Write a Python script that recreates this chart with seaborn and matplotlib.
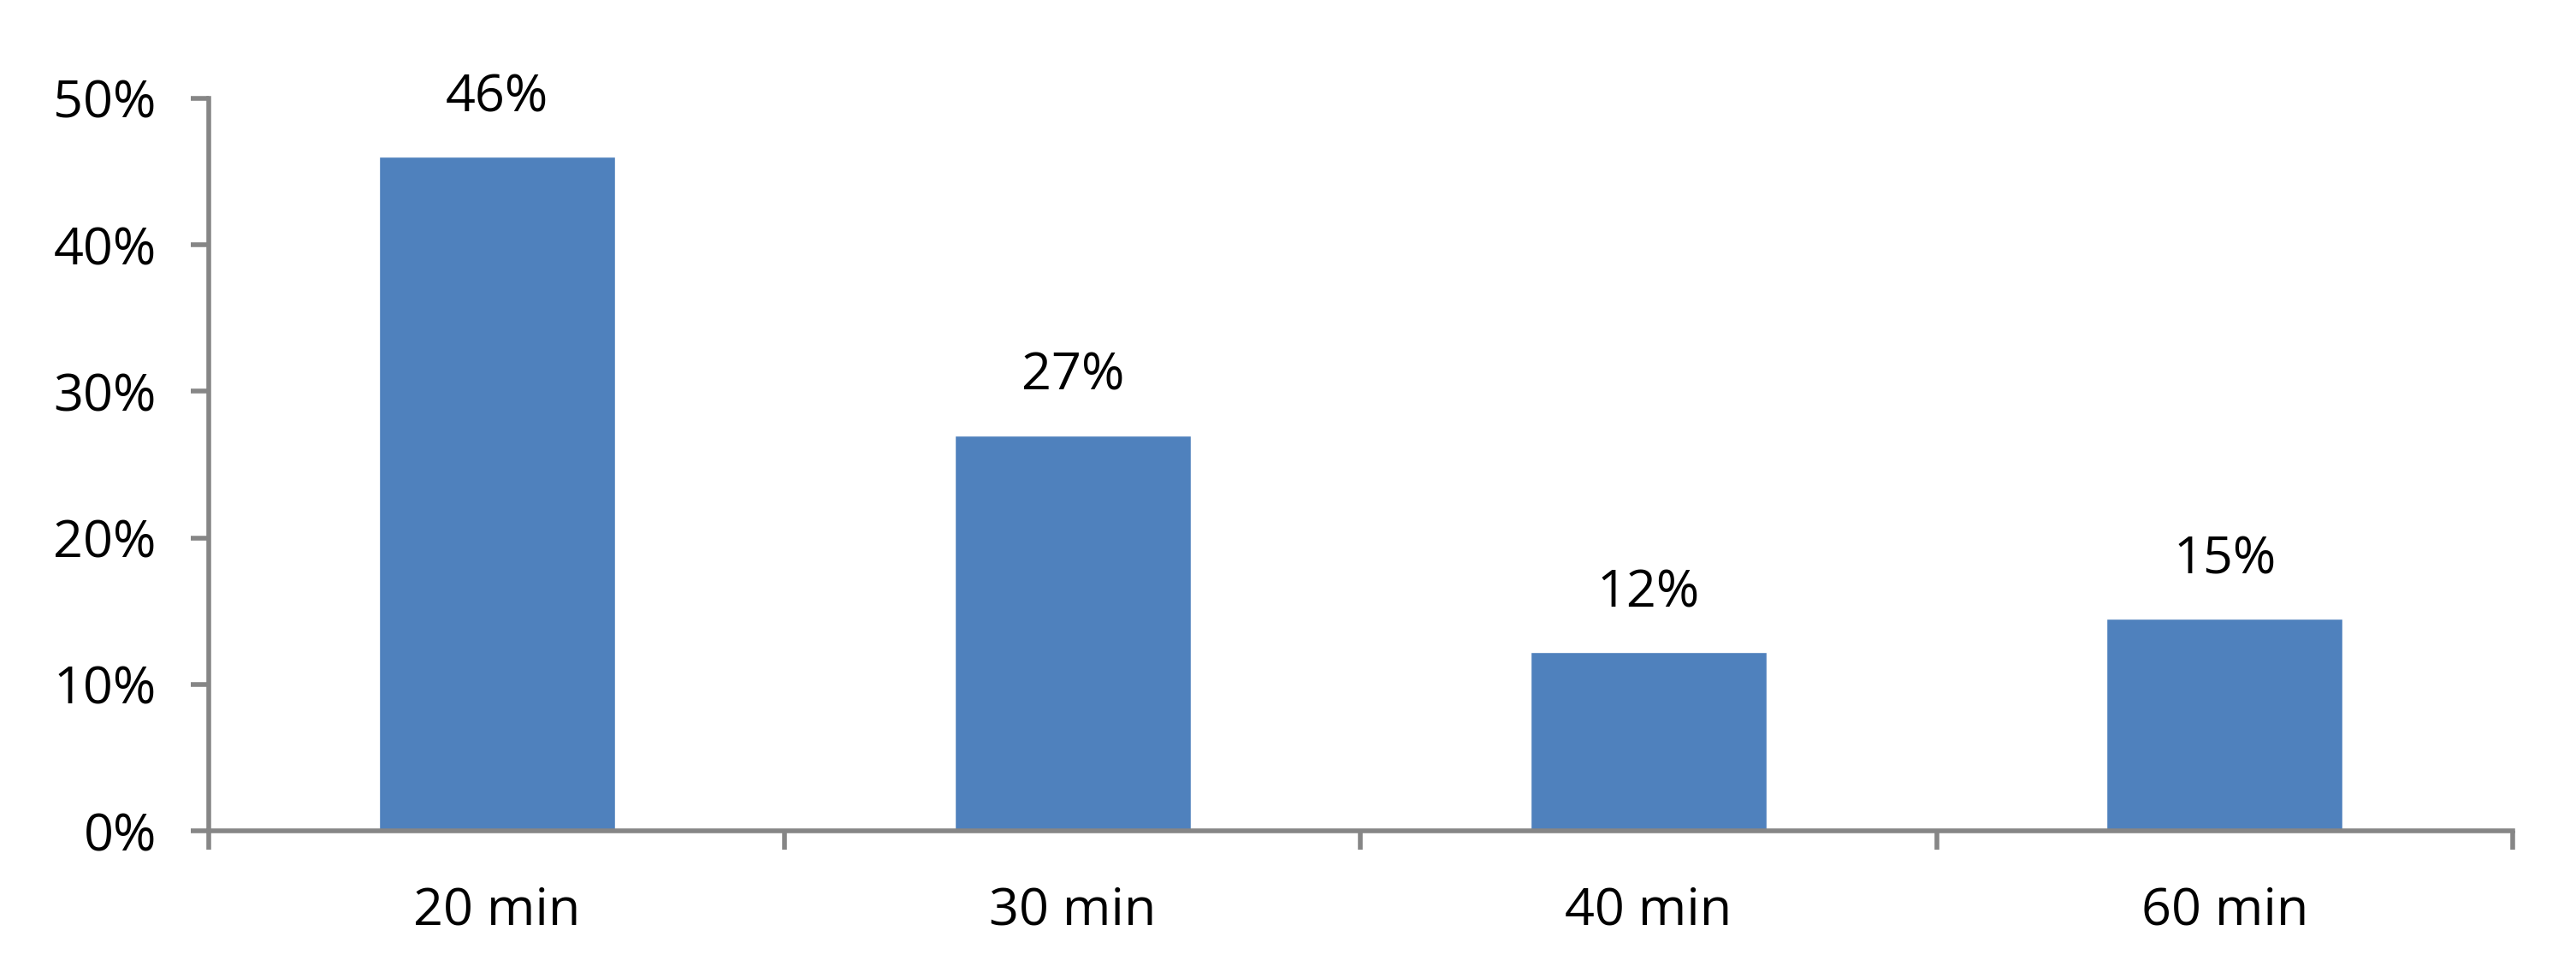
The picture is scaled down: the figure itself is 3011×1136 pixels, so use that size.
import matplotlib
matplotlib.use("Agg")
import matplotlib.pyplot as plt
import numpy as np
import seaborn as sns
from matplotlib.ticker import FixedLocator, PercentFormatter

durations = ["20 min", "30 min", "40 min", "60 min"]
shares = [46.0, 27.0, 12.2, 14.5]
share_labels = ["46%", "27%", "12%", "15%"]

sns.set_style("white")
plt.rcParams["font.family"] = ["Open Sans", "DejaVu Sans"]

bar_color = "#4F81BD"
axis_color = "#868686"

fig = plt.figure(figsize=(30.11, 11.36), dpi=100)
ax = fig.add_axes([0.0810, 0.1452, 0.8944, 0.7536])

sns.barplot(x=durations, y=shares, color=bar_color, saturation=1, width=0.41, ax=ax)

ax.set_xlim(-0.5, len(durations) - 0.5)
ax.set_ylim(0, 50)
ax.set_yticks(np.arange(0, 51, 10))
ax.yaxis.set_major_formatter(PercentFormatter(decimals=0))

# category boundaries get the tick marks, labels sit at the centres
ax.xaxis.set_major_locator(FixedLocator(np.arange(-0.5, len(durations), 1.0)))
ax.xaxis.set_minor_locator(FixedLocator(np.arange(len(durations))))
ax.set_xticklabels([], minor=False)
ax.set_xticklabels(durations, minor=True)

for side in ["top", "right"]:
    ax.spines[side].set_visible(False)
for side in ["left", "bottom"]:
    ax.spines[side].set_color(axis_color)
    ax.spines[side].set_linewidth(4)

ax.tick_params(axis="y", which="major", direction="out", length=15, width=4,
               color=axis_color, pad=29, labelsize=44, labelcolor="black", left=True)
ax.tick_params(axis="x", which="major", direction="out", length=16, width=4,
               color=axis_color, bottom=True)
ax.tick_params(axis="x", which="minor", length=0, pad=46, labelsize=44, labelcolor="black")

for i, (val, lab) in enumerate(zip(shares, share_labels)):
    ax.annotate(lab, xy=(i, val), xytext=(0, 38), textcoords="offset points",
                ha="center", va="baseline", fontsize=44, color="black")

ax.set_xlabel("")
ax.set_ylabel("")
fig.savefig("out.png", dpi=100, facecolor="white")
